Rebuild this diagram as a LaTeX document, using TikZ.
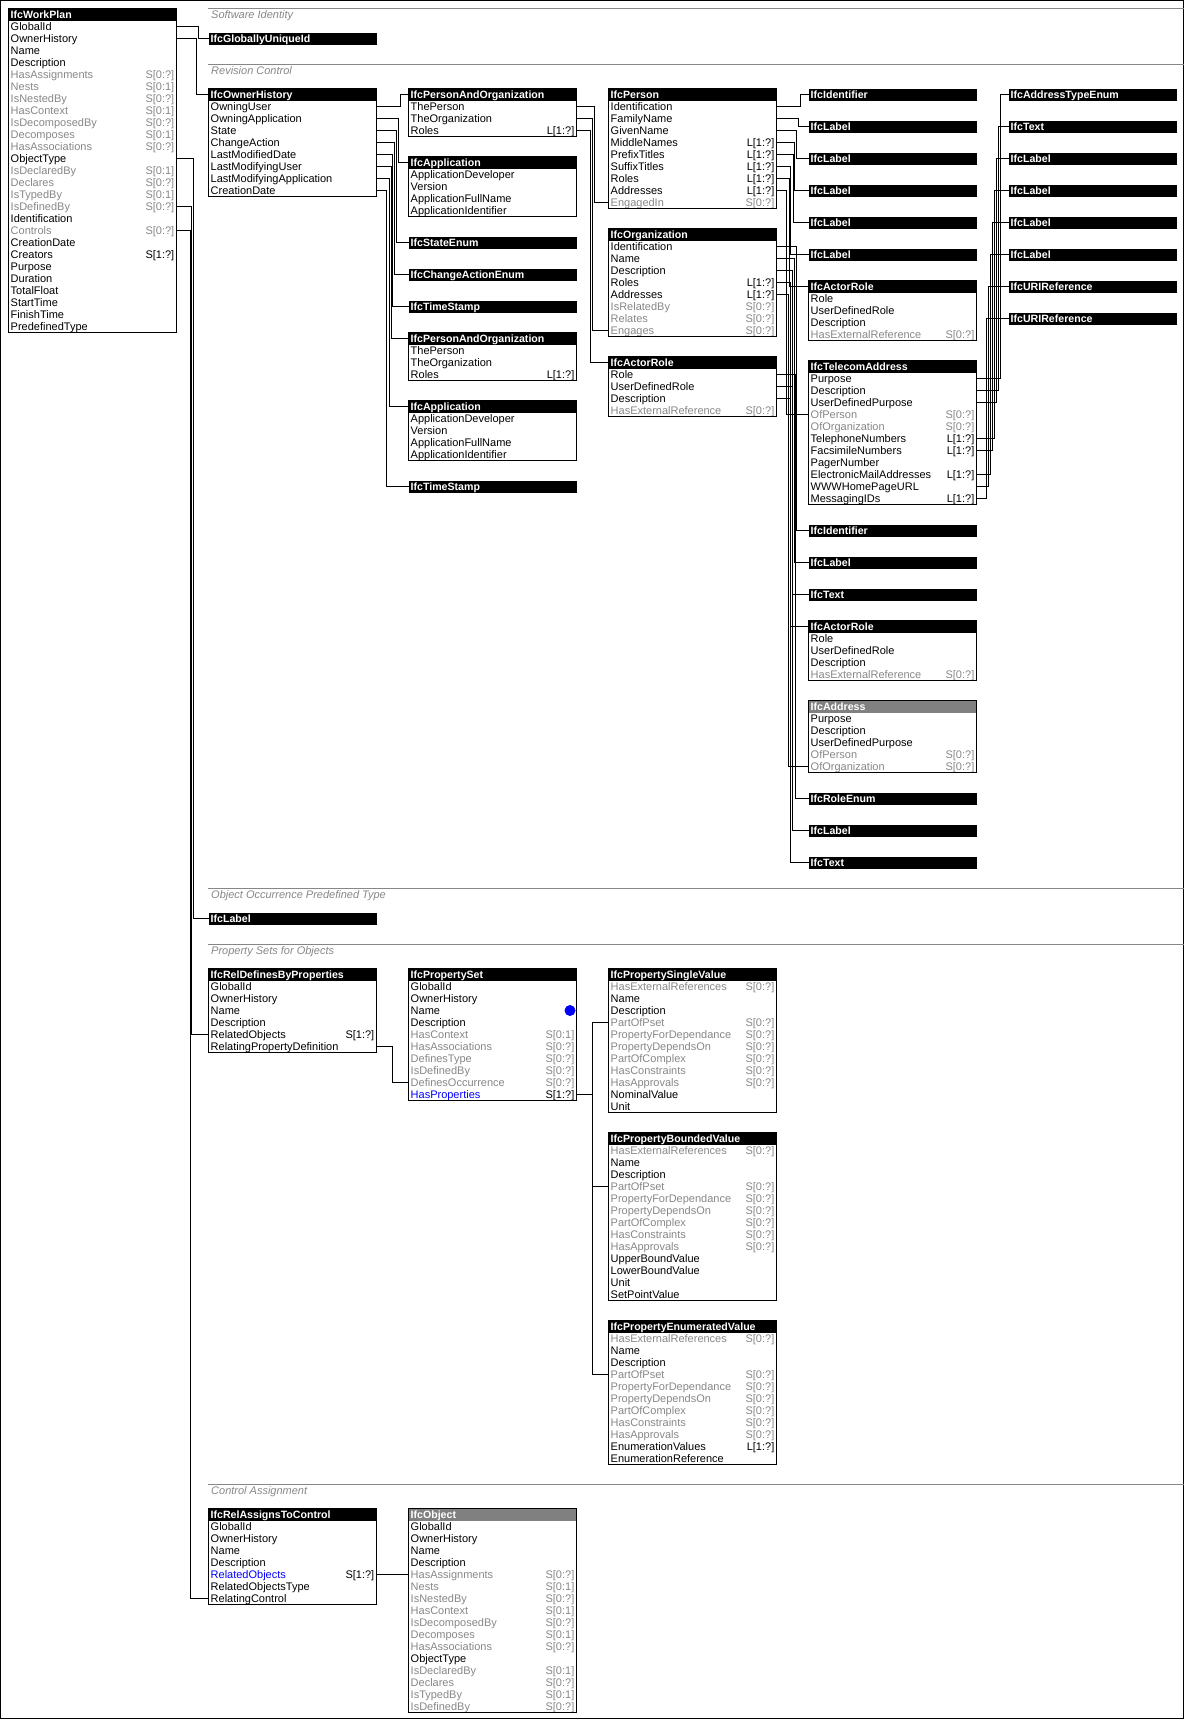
\documentclass[tikz,border=0pt]{standalone}
\usepackage{fontspec}
\setmainfont{Liberation Sans}
\definecolor{ifcgray}{RGB}{135,135,135}
\definecolor{abstracthead}{RGB}{128,128,128}

\tikzset{
  hdr/.style={anchor=north west, fill=black, text=white, font=\fontsize{10.6}{12}\selectfont\bfseries,
    minimum height=12, text width=164, inner xsep=2, inner ysep=0, text height=9, text depth=1, align=left},
  attr/.style={inner sep=0, font=\fontsize{11}{12}\selectfont},
  atxt/.style={text=black},
  gtxt/.style={text=ifcgray},
  btxt/.style={text=blue},
  box/.style={draw=black, line width=1},
  wire/.style={draw=black, line width=1},
  secline/.style={draw=ifcgray, line width=1},
  sec/.style={anchor=base west, inner sep=0, text=ifcgray, font=\fontsize{11}{12}\selectfont\itshape},
  dot/.style={circle, fill=blue, minimum size=11, inner sep=0}
}

% entity box: [header fill] name, x, y, title, rows (text/multiplicity/style)
\newcommand\entity[6][black]{%
  \node[hdr, fill=#1] (#2) at (#3,#4) {#5};
  \foreach[count=\i] \a/\m/\s in {#6}{
    \coordinate (#2-\i) at (#3,#4+6+12*\i);
    \coordinate (#2-\i-e) at (#3+168,#4+6+12*\i);
    \node[attr,\s,anchor=base west] (#2-n\i) at (#3+2,#4+10+12*\i) {\a};
    \node[attr,\s,anchor=base east] (#2-m\i) at (#3+166,#4+10+12*\i) {\m};
    \xdef\nrows{\i}
  }
  \draw[box] (#3,#4) rectangle ++(168,12+12*\nrows);
}
% orthogonal connector: source, horizontal run, target
\newcommand\wire[3]{\draw[wire] (#1) -- ++(#2,0) |- (#3);}

\begin{document}
\begin{tikzpicture}[x=1pt,y=-1pt]
  \useasboundingbox (0,0) rectangle (1184,1720);
  \draw[line width=1] (0.5,0.5) rectangle (1183.5,1718.5);

  % sections
  \draw[secline] (208,8.5) -- (1184,8.5);
  \node[sec] (sec-ident) at (211,18.5) {Software Identity};
  \draw[secline] (208,64.5) -- (1184,64.5);
  \node[sec] (sec-rev) at (211,74.5) {Revision Control};
  \draw[secline] (208,888.5) -- (1184,888.5);
  \node[sec] (sec-type) at (211,898.5) {Object Occurrence Predefined Type};
  \draw[secline] (208,944.5) -- (1184,944.5);
  \node[sec] (sec-pset) at (211,954.5) {Property Sets for Objects};
  \draw[secline] (208,1484.5) -- (1184,1484.5);
  \node[sec] (sec-ctrl) at (211,1494.5) {Control Assignment};

  % main entity
  \entity{wp}{8.5}{8.5}{IfcWorkPlan}{GlobalId//atxt, OwnerHistory//atxt, Name//atxt, Description//atxt,
    HasAssignments/S[0:?]/gtxt, Nests/S[0:1]/gtxt, IsNestedBy/S[0:?]/gtxt, HasContext/S[0:1]/gtxt,
    IsDecomposedBy/S[0:?]/gtxt, Decomposes/S[0:1]/gtxt, HasAssociations/S[0:?]/gtxt, ObjectType//atxt,
    IsDeclaredBy/S[0:1]/gtxt, Declares/S[0:?]/gtxt, IsTypedBy/S[0:1]/gtxt, IsDefinedBy/S[0:?]/gtxt,
    Identification//atxt, Controls/S[0:?]/gtxt, CreationDate//atxt, Creators/S[1:?]/atxt, Purpose//atxt,
    Duration//atxt, TotalFloat//atxt, StartTime//atxt, FinishTime//atxt, PredefinedType//atxt}

  % software identity
  \node[hdr] (guid) at (208.5,32.5) {IfcGloballyUniqueId};

  % revision control
  \entity{oh}{208.5}{88.5}{IfcOwnerHistory}{OwningUser//atxt, OwningApplication//atxt, State//atxt,
    ChangeAction//atxt, LastModifiedDate//atxt, LastModifyingUser//atxt, LastModifyingApplication//atxt,
    CreationDate//atxt}
  \entity{pao1}{408.5}{88.5}{IfcPersonAndOrganization}{ThePerson//atxt, TheOrganization//atxt, Roles/L[1:?]/atxt}
  \entity{app1}{408.5}{156.5}{IfcApplication}{ApplicationDeveloper//atxt, Version//atxt,
    ApplicationFullName//atxt, ApplicationIdentifier//atxt}
  \node[hdr] (state) at (408.5,236.5) {IfcStateEnum};
  \node[hdr] (chg) at (408.5,268.5) {IfcChangeActionEnum};
  \node[hdr] (ts1) at (408.5,300.5) {IfcTimeStamp};
  \entity{pao2}{408.5}{332.5}{IfcPersonAndOrganization}{ThePerson//atxt, TheOrganization//atxt, Roles/L[1:?]/atxt}
  \entity{app2}{408.5}{400.5}{IfcApplication}{ApplicationDeveloper//atxt, Version//atxt,
    ApplicationFullName//atxt, ApplicationIdentifier//atxt}
  \node[hdr] (ts2) at (408.5,480.5) {IfcTimeStamp};

  \entity{per}{608.5}{88.5}{IfcPerson}{Identification//atxt, FamilyName//atxt, GivenName//atxt,
    MiddleNames/L[1:?]/atxt, PrefixTitles/L[1:?]/atxt, SuffixTitles/L[1:?]/atxt, Roles/L[1:?]/atxt,
    Addresses/L[1:?]/atxt, EngagedIn/S[0:?]/gtxt}
  \entity{org}{608.5}{228.5}{IfcOrganization}{Identification//atxt, Name//atxt, Description//atxt,
    Roles/L[1:?]/atxt, Addresses/L[1:?]/atxt, IsRelatedBy/S[0:?]/gtxt, Relates/S[0:?]/gtxt, Engages/S[0:?]/gtxt}
  \entity{ar1}{608.5}{356.5}{IfcActorRole}{Role//atxt, UserDefinedRole//atxt, Description//atxt,
    HasExternalReference/S[0:?]/gtxt}

  \node[hdr] (id1) at (808.5,88.5) {IfcIdentifier};
  \node[hdr] (lb1) at (808.5,120.5) {IfcLabel};
  \node[hdr] (lb2) at (808.5,152.5) {IfcLabel};
  \node[hdr] (lb3) at (808.5,184.5) {IfcLabel};
  \node[hdr] (lb4) at (808.5,216.5) {IfcLabel};
  \node[hdr] (lb5) at (808.5,248.5) {IfcLabel};
  \entity{ar2}{808.5}{280.5}{IfcActorRole}{Role//atxt, UserDefinedRole//atxt, Description//atxt,
    HasExternalReference/S[0:?]/gtxt}
  \entity{tel}{808.5}{360.5}{IfcTelecomAddress}{Purpose//atxt, Description//atxt, UserDefinedPurpose//atxt,
    OfPerson/S[0:?]/gtxt, OfOrganization/S[0:?]/gtxt, TelephoneNumbers/L[1:?]/atxt,
    FacsimileNumbers/L[1:?]/atxt, PagerNumber//atxt, ElectronicMailAddresses/L[1:?]/atxt,
    WWWHomePageURL//atxt, MessagingIDs/L[1:?]/atxt}
  \node[hdr] (id2) at (808.5,524.5) {IfcIdentifier};
  \node[hdr] (lb6) at (808.5,556.5) {IfcLabel};
  \node[hdr] (tx1) at (808.5,588.5) {IfcText};
  \entity{ar3}{808.5}{620.5}{IfcActorRole}{Role//atxt, UserDefinedRole//atxt, Description//atxt,
    HasExternalReference/S[0:?]/gtxt}
  \entity[abstracthead]{adr}{808.5}{700.5}{IfcAddress}{Purpose//atxt, Description//atxt,
    UserDefinedPurpose//atxt, OfPerson/S[0:?]/gtxt, OfOrganization/S[0:?]/gtxt}
  \node[hdr] (rle) at (808.5,792.5) {IfcRoleEnum};
  \node[hdr] (lb7) at (808.5,824.5) {IfcLabel};
  \node[hdr] (tx2) at (808.5,856.5) {IfcText};

  \node[hdr] (ate) at (1008.5,88.5) {IfcAddressTypeEnum};
  \node[hdr] (tx3) at (1008.5,120.5) {IfcText};
  \node[hdr] (lb8) at (1008.5,152.5) {IfcLabel};
  \node[hdr] (lb9) at (1008.5,184.5) {IfcLabel};
  \node[hdr] (lb10) at (1008.5,216.5) {IfcLabel};
  \node[hdr] (lb11) at (1008.5,248.5) {IfcLabel};
  \node[hdr] (uri1) at (1008.5,280.5) {IfcURIReference};
  \node[hdr] (uri2) at (1008.5,312.5) {IfcURIReference};

  % object occurrence predefined type
  \node[hdr] (lb0) at (208.5,912.5) {IfcLabel};

  % property sets
  \entity{rdp}{208.5}{968.5}{IfcRelDefinesByProperties}{GlobalId//atxt, OwnerHistory//atxt, Name//atxt,
    Description//atxt, RelatedObjects/S[1:?]/atxt, RelatingPropertyDefinition//atxt}
  \entity{pset}{408.5}{968.5}{IfcPropertySet}{GlobalId//atxt, OwnerHistory//atxt, Name//atxt,
    Description//atxt, HasContext/S[0:1]/gtxt, HasAssociations/S[0:?]/gtxt, DefinesType/S[0:?]/gtxt,
    IsDefinedBy/S[0:?]/gtxt, DefinesOccurrence/S[0:?]/gtxt, HasProperties/\textcolor{black}{S[1:?]}/btxt}
  \node[dot] (pick) at (570,1010.5) {};
  \entity{psv}{608.5}{968.5}{IfcPropertySingleValue}{HasExternalReferences/S[0:?]/gtxt, Name//atxt,
    Description//atxt, PartOfPset/S[0:?]/gtxt, PropertyForDependance/S[0:?]/gtxt,
    PropertyDependsOn/S[0:?]/gtxt, PartOfComplex/S[0:?]/gtxt, HasConstraints/S[0:?]/gtxt,
    HasApprovals/S[0:?]/gtxt, NominalValue//atxt, Unit//atxt}
  \entity{pbv}{608.5}{1132.5}{IfcPropertyBoundedValue}{HasExternalReferences/S[0:?]/gtxt, Name//atxt,
    Description//atxt, PartOfPset/S[0:?]/gtxt, PropertyForDependance/S[0:?]/gtxt,
    PropertyDependsOn/S[0:?]/gtxt, PartOfComplex/S[0:?]/gtxt, HasConstraints/S[0:?]/gtxt,
    HasApprovals/S[0:?]/gtxt, UpperBoundValue//atxt, LowerBoundValue//atxt, Unit//atxt, SetPointValue//atxt}
  \entity{pev}{608.5}{1320.5}{IfcPropertyEnumeratedValue}{HasExternalReferences/S[0:?]/gtxt, Name//atxt,
    Description//atxt, PartOfPset/S[0:?]/gtxt, PropertyForDependance/S[0:?]/gtxt,
    PropertyDependsOn/S[0:?]/gtxt, PartOfComplex/S[0:?]/gtxt, HasConstraints/S[0:?]/gtxt,
    HasApprovals/S[0:?]/gtxt, EnumerationValues/L[1:?]/atxt, EnumerationReference//atxt}

  % control assignment
  \entity{rac}{208.5}{1508.5}{IfcRelAssignsToControl}{GlobalId//atxt, OwnerHistory//atxt, Name//atxt,
    Description//atxt, RelatedObjects/\textcolor{black}{S[1:?]}/btxt, RelatedObjectsType//atxt,
    RelatingControl//atxt}
  \entity[abstracthead]{obj}{408.5}{1508.5}{IfcObject}{GlobalId//atxt, OwnerHistory//atxt, Name//atxt,
    Description//atxt, HasAssignments/S[0:?]/gtxt, Nests/S[0:1]/gtxt, IsNestedBy/S[0:?]/gtxt,
    HasContext/S[0:1]/gtxt, IsDecomposedBy/S[0:?]/gtxt, Decomposes/S[0:1]/gtxt,
    HasAssociations/S[0:?]/gtxt, ObjectType//atxt, IsDeclaredBy/S[0:1]/gtxt, Declares/S[0:?]/gtxt,
    IsTypedBy/S[0:1]/gtxt, IsDefinedBy/S[0:?]/gtxt}

  % connectors
  \wire{wp-1-e}{22}{guid.west}
  \wire{wp-2-e}{20.3}{oh.west}
  \wire{wp-12-e}{17}{lb0.west}
  \wire{wp-16-e}{15.3}{rdp-5}
  \wire{wp-18-e}{13.6}{rac-7}

  \wire{oh-1-e}{23.5}{pao1.west}
  \wire{oh-2-e}{21.8}{app1.west}
  \wire{oh-3-e}{19.5}{state.west}
  \wire{oh-4-e}{17.8}{chg.west}
  \wire{oh-5-e}{16}{ts1.west}
  \wire{oh-6-e}{14.5}{pao2.west}
  \wire{oh-7-e}{12.5}{app2.west}
  \wire{oh-8-e}{10}{ts2.west}

  \wire{pao1-1-e}{17.8}{per-9}
  \wire{pao1-2-e}{15.8}{org-8}
  \wire{pao1-3-e}{14.2}{ar1.west}

  \wire{per-1-e}{23.5}{id1.west}
  \wire{per-2-e}{21.8}{lb1.west}
  \wire{per-3-e}{20.2}{lb2.west}
  \wire{per-4-e}{18.2}{lb3.west}
  \wire{per-5-e}{16.5}{lb4.west}
  \wire{per-6-e}{14.2}{lb5.west}
  \wire{per-7-e}{12.5}{ar2.west}
  \wire{per-8-e}{10.2}{tel-4}

  \wire{org-1-e}{19.8}{id2.west}
  \wire{org-2-e}{17.8}{lb6.west}
  \wire{org-3-e}{16.2}{tx1.west}
  \wire{org-4-e}{14.2}{ar3.west}
  \wire{org-5-e}{11.8}{adr-5}

  \wire{ar1-1-e}{18.5}{rle.west}
  \wire{ar1-2-e}{16}{lb7.west}
  \wire{ar1-3-e}{14}{tx2.west}

  \wire{tel-1-e}{23.5}{ate.west}
  \wire{tel-2-e}{21.8}{tx3.west}
  \wire{tel-3-e}{20.2}{lb8.west}
  \wire{tel-6-e}{17.5}{lb9.west}
  \wire{tel-7-e}{15.8}{lb10.west}
  \wire{tel-9-e}{14.2}{lb11.west}
  \wire{tel-10-e}{11.8}{uri1.west}
  \wire{tel-11-e}{10.2}{uri2.west}

  \wire{rdp-6-e}{16.2}{pset-9}
  \wire{pset-10-e}{15.5}{psv-4}
  \wire{pset-10-e}{15.5}{pbv-4}
  \wire{pset-10-e}{15.5}{pev-4}
  \draw[wire] (rac-5-e) -- (obj-5);
\end{tikzpicture}
\end{document}
